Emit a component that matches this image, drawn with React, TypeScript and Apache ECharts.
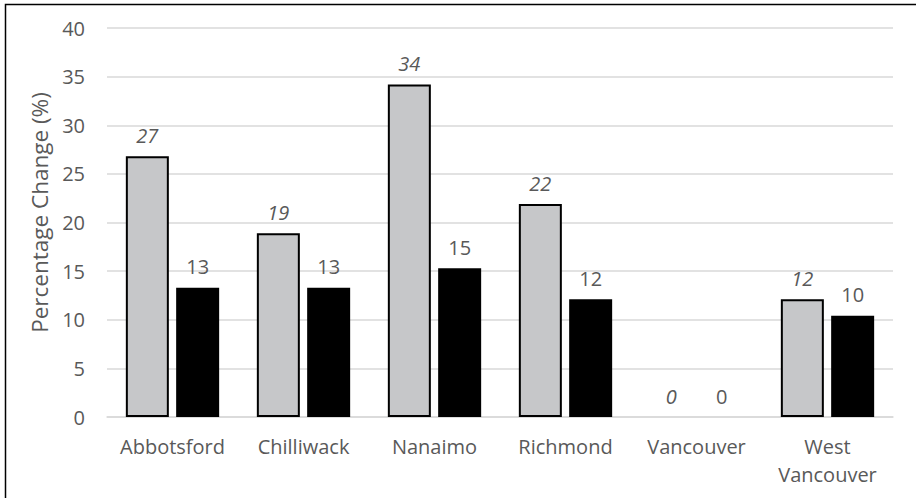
import React, { useEffect, useRef } from "react";
import * as echarts from "echarts";

const categories = ["Abbotsford", "Chilliwack", "Nanaimo", "Richmond", "Vancouver", "West\nVancouver"];
const grayValues = [26.8, 18.9, 34.2, 21.9, 0, 12.1];
const blackValues = [13.3, 13.3, 15.3, 12.1, 0, 10.4];
const yTicks = { min: 0, max: 40, interval: 5 };
const yAxisTitle = "Percentage Change (%)";

const FONT = "Open Sans";
const TEXT = "#595959";
const FS = 20;

export default function App() {
  const ref = useRef<HTMLDivElement>(null);
  useEffect(() => {
    if (!ref.current) return;
    const chart = echarts.init(ref.current, null, { renderer: "svg" });
    const grayData = grayValues.map((v) =>
      v === 0 ? { value: v, itemStyle: { borderWidth: 0 } } : v
    );
    chart.setOption({
      animation: false,
      backgroundColor: "#ffffff",
      textStyle: { fontFamily: FONT },
      grid: { left: 107, right: 23, top: 28, bottom: 81, containLabel: false },
      xAxis: {
        type: "category",
        data: categories,
        axisLine: { show: true, lineStyle: { color: "#d9d9d9", width: 1.5 } },
        axisTick: { show: false },
        axisLabel: { color: TEXT, fontSize: FS, fontFamily: FONT, margin: 15, lineHeight: 28, interval: 0 },
      },
      yAxis: {
        type: "value",
        min: yTicks.min,
        max: yTicks.max,
        interval: yTicks.interval,
        name: yAxisTitle,
        nameLocation: "middle",
        nameGap: 55,
        nameTextStyle: { color: TEXT, fontSize: 22.5, fontFamily: FONT, padding: [0, 0, 0, 20] },
        axisLine: { show: false },
        axisTick: { show: false },
        axisLabel: { color: TEXT, fontSize: FS, fontFamily: FONT, margin: 22 },
        splitLine: { lineStyle: { color: "#d9d9d9", width: 1.5 } },
      },
      series: [
        {
          type: "bar",
          data: grayData,
          barWidth: 43,
          barGap: "17%",
          itemStyle: { color: "#c6c7c9", borderColor: "#000000", borderWidth: 2 },
          label: {
            show: true,
            position: "top",
            distance: 11,
            color: TEXT,
            fontSize: FS,
            fontStyle: "italic",
            fontFamily: FONT,
            formatter: (p: any) => String(Math.round(p.value)),
          },
        },
        {
          type: "bar",
          data: blackValues,
          barWidth: 43,
          itemStyle: { color: "#000000" },
          label: {
            show: true,
            position: "top",
            distance: 11,
            color: TEXT,
            fontSize: FS,
            fontFamily: FONT,
            formatter: (p: any) => String(Math.round(p.value)),
          },
        },
      ],
      graphic: [
        {
          type: "rect",
          shape: { x: 5.5, y: 4.5, width: 930, height: 520 },
          style: { fill: "none", stroke: "#000000", lineWidth: 1.5 },
          silent: true,
        },
      ],
    });
    return () => chart.dispose();
  }, []);
  return (
    <div
      ref={ref}
      style={{ position: "absolute", left: 0, top: 0, width: 916, height: 498 }}
    />
  );
}
